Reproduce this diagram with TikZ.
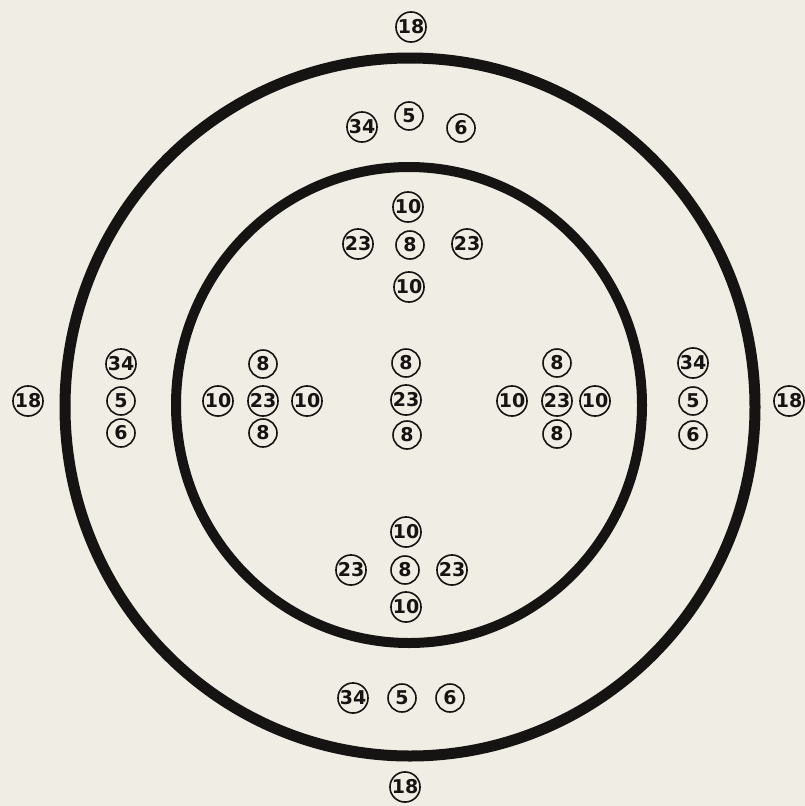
\documentclass[tikz,border=0pt]{standalone}
\usepackage{fontspec}
\setmainfont{DejaVu Sans}
\definecolor{paper}{RGB}{240,237,228}
\definecolor{ink}{RGB}{22,20,18}
\tikzset{
  num/.style={circle, draw=ink, line width=1.6pt, minimum size=28pt, inner sep=0pt,
    font=\bfseries\fontsize{19}{19}\selectfont, text=ink},
  ring/.style={draw=ink, line width=11pt}
}
\begin{document}
\begin{tikzpicture}[x=1pt,y=-1pt]
\fill[paper] (0,0) rectangle (805,806);
\useasboundingbox (0,0) rectangle (805,806);
% rings
\draw[ring] (410,407) ellipse [x radius=345, y radius=349];
\draw[ring, line width=10pt] (409,405) ellipse [x radius=233, y radius=238];
% outer labels
\node[num] (t18) at (411,27) {18};
\node[num] (b18) at (405,787) {18};
\node[num] (l18) at (28,401) {18};
\node[num] (r18) at (789,401) {18};
% top group between rings
\node[num] (t34) at (362,127) {34};
\node[num] (t5) at (409,116) {5};
\node[num] (t6) at (461,128) {6};
% bottom group between rings
\node[num] (b34) at (353,698) {34};
\node[num] (b5) at (402,698) {5};
\node[num] (b6) at (450,698) {6};
% left group between rings
\node[num] (l34) at (121,364) {34};
\node[num] (l5) at (121,401) {5};
\node[num] (l6) at (121,433) {6};
% right group between rings
\node[num] (r34) at (693,363) {34};
\node[num] (r5) at (693,401) {5};
\node[num] (r6) at (693,435) {6};
% top cross
\node[num] (tc10a) at (408,207) {10};
\node[num] (tc23a) at (358,244) {23};
\node[num] (tc8) at (410,245) {8};
\node[num] (tc23b) at (467,244) {23};
\node[num] (tc10b) at (409,287) {10};
% bottom cross
\node[num] (bc10a) at (406,532) {10};
\node[num] (bc23a) at (351,570) {23};
\node[num] (bc8) at (405,570) {8};
\node[num] (bc23b) at (452,570) {23};
\node[num] (bc10b) at (406,607) {10};
% left cross
\node[num] (lc8a) at (263,364) {8};
\node[num] (lc10a) at (218,401) {10};
\node[num] (lc23) at (263,401) {23};
\node[num] (lc10b) at (307,401) {10};
\node[num] (lc8b) at (263,433) {8};
% centre column
\node[num] (cc8a) at (406,363) {8};
\node[num] (cc23) at (406,400) {23};
\node[num] (cc8b) at (407,435) {8};
% right cross
\node[num] (rc8a) at (557,363) {8};
\node[num] (rc10a) at (512,401) {10};
\node[num] (rc23) at (557,401) {23};
\node[num] (rc10b) at (595,401) {10};
\node[num] (rc8b) at (557,434) {8};
\end{tikzpicture}
\end{document}
